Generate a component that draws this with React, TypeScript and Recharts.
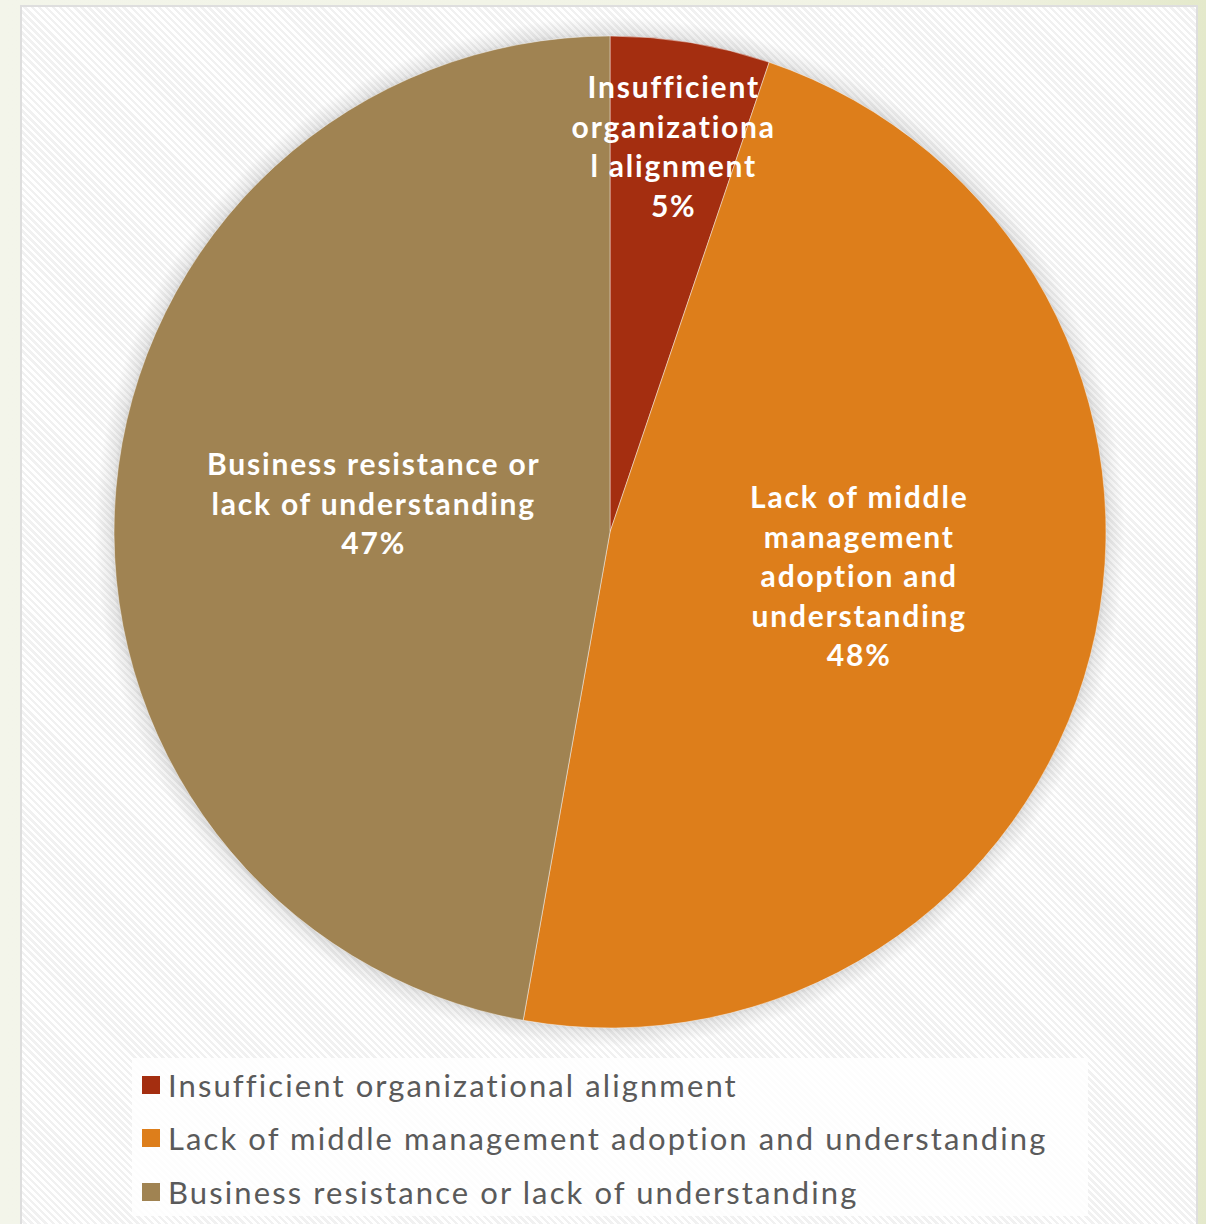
import React from "react";
import { PieChart, Pie, Cell, Legend } from "recharts";

const categories = [
  "Insufficient organizational alignment",
  "Lack of middle management adoption and understanding",
  "Business resistance or lack of understanding",
];
const values = [5.2, 47.6, 47.2];
const labelLines = [
  ["Insufficient", "organizationa", "l alignment"],
  ["Lack of middle", "management", "adoption and", "understanding"],
  ["Business resistance or", "lack of understanding"],
];
const colors = ["#A42E10", "#DD7E1B", "#A08352"];

const data = categories.map((name, i) => ({ name, value: values[i] }));

const RAD = Math.PI / 180;
const labelLayout = [
  { rf: 0.79, da: 0 },
  { rf: 0.51, da: 4.6 },
  { rf: 0.48, da: -2 },
];

const renderLabel = (props: any) => {
  const { cx, cy, midAngle, outerRadius, index, percent } = props;
  const lay = labelLayout[index];
  const a = (midAngle + lay.da) * RAD;
  const r = outerRadius * lay.rf;
  const x = cx + r * Math.cos(a);
  const y = cy - r * Math.sin(a);
  const lines = [...labelLines[index], `${Math.round(percent * 100)}%`];
  const lh = 39.5;
  return (
    <g>
      {lines.map((t, i) => (
        <text
          key={i}
          x={x}
          y={y + (i - (lines.length - 1) / 2) * lh}
          textAnchor="middle"
          dominantBaseline="central"
          fill="#FFFFFF"
          style={{ fontFamily: "Lato, sans-serif", fontWeight: 700, fontSize: 30, letterSpacing: 1.8 }}
        >
          {t}
        </text>
      ))}
    </g>
  );
};

const renderLegend = (props: any) => {
  const payload = [...(props.payload || [])].sort(
    (a: any, b: any) => categories.indexOf(a.value) - categories.indexOf(b.value)
  );
  return (
    <div
      style={{
        width: 956,
        height: 158,
        background: "rgba(255,255,255,0.85)",
        boxSizing: "border-box",
        paddingTop: 0,
        paddingLeft: 10,
      }}
    >
      {payload.map((p: any, i: number) => (
        <div key={i} style={{ display: "flex", alignItems: "center", height: 53.5 }}>
          <div style={{ width: 18, height: 18, background: p.color, marginRight: 8 }} />
          <span
            style={{
              fontFamily: "Lato, sans-serif",
              fontSize: 31,
              color: "#5a5a5a",
              letterSpacing: 2.1,
              lineHeight: "36px",
            }}
          >
            {p.value}
          </span>
        </div>
      ))}
    </div>
  );
};

export default function App() {
  return (
    <div
      style={{
        position: "absolute",
        left: 0,
        top: 0,
        width: 1206,
        height: 1224,
        overflow: "hidden",
        background: "linear-gradient(90deg, #f3f5ea 0%, #f1f3e4 80%, #e4e9cb 100%)",
      }}
    >
      <style>{`body{margin:0}`}</style>
      <div
        style={{
          position: "absolute",
          left: 20,
          top: 5,
          width: 1174,
          height: 1240,
          border: "2px solid #dedede",
          background:
            "repeating-linear-gradient(45deg, #ffffff 0px, #ffffff 2.5px, #f1f1f1 2.5px, #f1f1f1 5px)",
        }}
      />
      <div
        style={{
          position: "absolute",
          left: 0,
          top: 0,
          width: 1206,
          height: 1224,
          background:
            "radial-gradient(circle 530px at 610px 532px, rgba(0,0,0,0.22) 490px, rgba(0,0,0,0.08) 500px, rgba(0,0,0,0) 515px)",
        }}
      />
      <div style={{ position: "absolute", left: 0, top: 0 }}>
        <PieChart width={1206} height={1224} margin={{ top: 0, right: 0, bottom: 0, left: 0 }}>
          <Pie
            data={data}
            dataKey="value"
            nameKey="name"
            cx={610}
            cy={532}
            outerRadius={496}
            startAngle={90}
            endAngle={-270}
            label={renderLabel}
            labelLine={false}
            isAnimationActive={false}
            stroke="rgba(255,255,255,0.45)"
            strokeWidth={1}
          >
            {data.map((d, i) => (
              <Cell key={d.name} fill={colors[i]} />
            ))}
          </Pie>
          <Legend
            content={renderLegend}
            wrapperStyle={{ position: "absolute", left: 132, top: 1058, width: 956, height: 158 }}
          />
        </PieChart>
      </div>
    </div>
  );
}
